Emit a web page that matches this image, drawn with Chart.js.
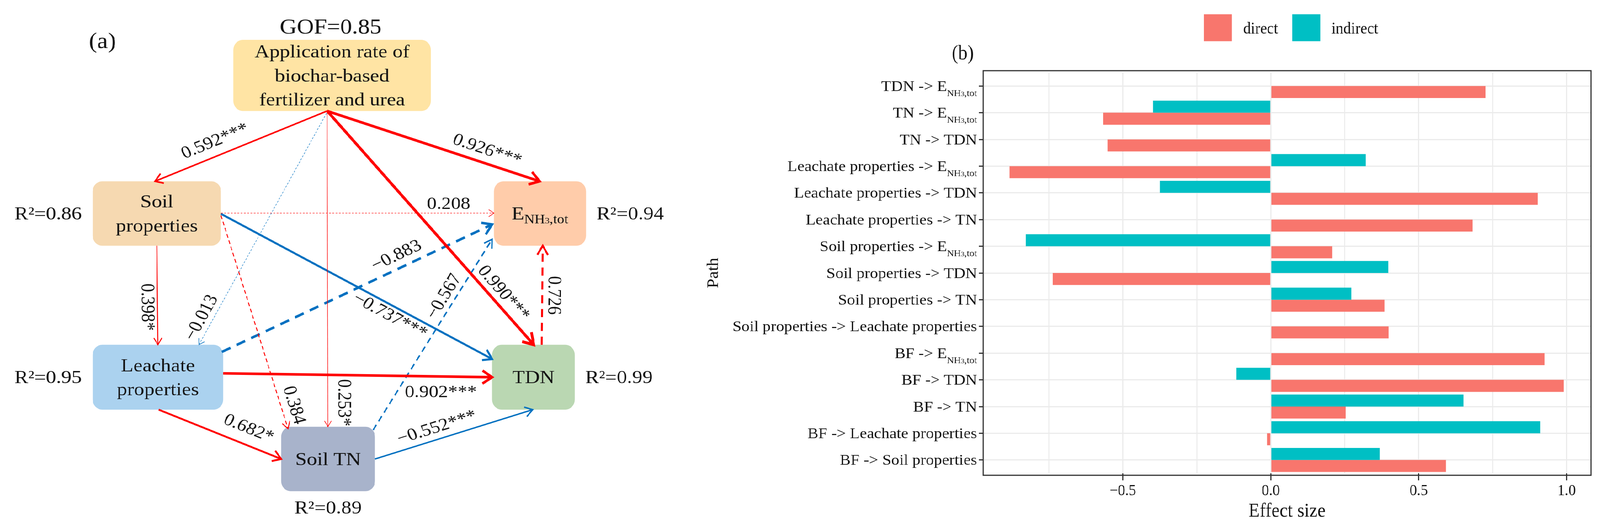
<!DOCTYPE html>
<html>
<head>
<meta charset="utf-8">
<script src="https://cdn.jsdelivr.net/npm/chart.js@4.4.1/dist/chart.umd.min.js"></script>
<style>
  html, body { margin: 0; padding: 0; background: #fff; overflow: hidden; }
  #page { position: relative; width: 4397px; height: 1352px; transform-origin: 0 0; }
  #paneA { position: absolute; left: 0; top: 0; width: 1900px; height: 1352px; }
  #paneB { position: absolute; left: 1900px; top: 0; width: 2497px; height: 1352px; }
</style>
</head>
<body>
<div id="page">
  <div id="paneA"><canvas id="pathModel"></canvas></div>
  <div id="paneB"><canvas id="effectBars"></canvas></div>
</div>
<script>
/* Path model (a) and direct / indirect effects (b) */

// ---- panel (b) data ----
var pathLabels = [
  'TDN -> E{NH3,tot}', 'TN -> E{NH3,tot}', 'TN -> TDN',
  'Leachate properties -> E{NH3,tot}', 'Leachate properties -> TDN', 'Leachate properties -> TN',
  'Soil properties -> E{NH3,tot}', 'Soil properties -> TDN', 'Soil properties -> TN',
  'Soil properties -> Leachate properties',
  'BF -> E{NH3,tot}', 'BF -> TDN', 'BF -> TN', 'BF -> Leachate properties', 'BF -> Soil properties'
];
var directEffect = [0.726, -0.567, -0.552, -0.883, 0.902, 0.682, 0.208, -0.737, 0.384, 0.398, 0.926, 0.990, 0.253, -0.013, 0.592];
var indirectEffect = [0, -0.398, 0, 0.321, -0.375, 0, -0.828, 0.397, 0.272, 0, 0, -0.116, 0.651, 0.911, 0.369];
var effectTicks = [-0.5, 0, 0.5, 1.0];

// ---- panel (a) data ----
var nodeIds = ['BF', 'Soil', 'Leach', 'TN', 'TDN', 'E'];
var nodeText = [
  ['Application rate of', 'biochar-based', 'fertilizer and urea'],
  ['Soil', 'properties'], ['Leachate', 'properties'], ['Soil TN'], ['TDN'], ['E{NH3,tot}']
];
var nodeR2 = [null, 0.86, 0.95, 0.89, 0.99, 0.94];
var modelGOF = 0.85;

var edgeFrom = ['BF', 'BF', 'BF', 'BF', 'BF', 'Soil', 'Soil', 'Soil', 'Soil', 'Leach', 'Leach', 'Leach', 'TN', 'TN', 'TDN'];
var edgeTo = ['Soil', 'E', 'TDN', 'TN', 'Leach', 'Leach', 'E', 'TN', 'TDN', 'E', 'TDN', 'TN', 'TDN', 'E', 'E'];
var edgeCoef = [0.592, 0.926, 0.990, 0.253, -0.013, 0.398, 0.208, 0.384, -0.737, -0.883, 0.902, 0.682, -0.552, -0.567, 0.726];
var edgeSig = ['***', '***', '***', '*', '', '*', '', '', '***', '', '***', '*', '***', '', ''];

// ---- diagram layout (diagram units, x0 y0 x1 y1) ----
var nodeBox = {
  BF: [640, 99, 1185, 282], Soil: [252, 463, 606, 629], Leach: [252, 884, 612, 1051],
  TN: [772, 1095, 1031, 1261], TDN: [1354, 884, 1582, 1051], E: [1359, 463, 1613, 629]
};
var nodeFill = { BF: '#FFE4A4', Soil: '#F6D9B1', Leach: '#ABD2EF', TN: '#A8B3CB', TDN: '#BAD7B2', E: '#FFCCAA' };
var r2Side = { Soil: 'left', Leach: 'left', TN: 'below', TDN: 'right', E: 'right' };
var tagPos = [279, 105];
// where each arrow leaves / enters its boxes (fractions of the box)
var edgeAnchor = [
  [0.475, 1, 0.486, 0], [0.475, 1, 0.496, 0], [0.475, 1, 0.504, 0], [0.475, 1, 0.498, 0],
  [0.472, 1.03, 0.814, 0], [0.5, 1, 0.5, 0], [1, 0.494, 0, 0.494], [1, 0.53, 0.073, 0.03],
  [1, 0.506, 0, 0.22], [0.99, 0.11, -0.02, 0.67], [1, 0.44, 0, 0.5], [0.506, 1, 0, 0.5],
  [1, 0.5, 0.49, 1], [0.98, 0.05, -0.02, 0.9], [0.6, 0, 0.53, 1]
];
// coefficient label: position along the arrow, offset across it
var edgeLabelAt = [
  [0.623, 36.8], [0.736, -33.4], [0.814, -30.3], [0.924, -43.2], [0.908, 28.6],
  [0.618, 28.9], [0.834, -22], [0.910, -34.3], [0.639, 26.8], [0.664, -32.3],
  [0.81, 41.9], [0.691, -41], [0.412, -29.4], [0.668, -28], [0.5, 31]
];

var SERIF = '"Liberation Serif", "Times New Roman", Times, serif';
var INK = '#141414';
var POS = '#FF0000', NEG = '#0070C0';
var STRETCH = 1.2;

// make the 4397 x 1352 figure fill the viewport whatever its real size
(function fitPage() {
  var w = window.innerWidth, h = window.innerHeight;
  if (!w || !h) return;
  var sx = w / 4397, sy = h / 1352;
  if (Math.abs(sx - 1) > 0.002 || Math.abs(sy - 1) > 0.002) {
    document.getElementById('page').style.transform = 'scale(' + sx + ',' + sy + ')';
  }
})();

function fmtCoef(c) { return (c < 0 ? '\u2212' : '') + Math.abs(c).toFixed(3); }
function edgeWidth(c) { return Math.max(1.2, 8 * Math.abs(c) - 0.6); }
function edgeDash(i) {
  if (edgeSig[i]) return [];
  var w = edgeWidth(edgeCoef[i]);
  return [Math.max(5, 4 * w), Math.max(4, 2.8 * w)];
}
function isMajor(v) {
  return effectTicks.some(function (t) { return Math.abs(t - v) < 1e-6; });
}

function segments(label, size, sub) {
  var m = label.match(/^(.*?)\{(.*)\}$/);
  var segs = [{ t: m ? m[1] : label, size: size, dy: 0 }];
  if (m) {
    m[2].split(/(\d+)/).forEach(function (p) {
      if (!p) return;
      var d = /^\d+$/.test(p);
      segs.push({ t: p, size: size * (d ? sub.digit : sub.sub), dy: size * sub.dy });
    });
  }
  return segs;
}

function drawRich(ctx, label, x, y, size, align, sx, sub) {
  var segs = segments(label, size, sub), w = 0;
  segs.forEach(function (s) {
    ctx.font = s.size + 'px ' + SERIF;
    s.w = ctx.measureText(s.t).width;
    w += s.w;
  });
  ctx.save();
  ctx.translate(x, y);
  ctx.scale(sx, 1);
  ctx.fillStyle = INK;
  ctx.textAlign = 'left';
  ctx.textBaseline = 'alphabetic';
  var cx = align === 'right' ? -w : (align === 'center' ? -w / 2 : 0);
  segs.forEach(function (s) {
    ctx.font = s.size + 'px ' + SERIF;
    ctx.fillText(s.t, cx, s.dy);
    cx += s.w;
  });
  ctx.restore();
}

function drawText(ctx, text, x, y, size, angle, align, baseline) {
  ctx.save();
  ctx.translate(x, y);
  ctx.scale(STRETCH, 1);
  if (angle) ctx.rotate(Math.atan2(Math.sin(angle), Math.cos(angle) / STRETCH));
  ctx.font = size + 'px ' + SERIF;
  ctx.fillStyle = INK;
  ctx.textAlign = align || 'center';
  ctx.textBaseline = baseline || 'middle';
  ctx.fillText(text, 0, 0);
  ctx.restore();
}

function roundRectPath(ctx, x, y, w, h, r) {
  ctx.beginPath();
  ctx.moveTo(x + r, y);
  ctx.arcTo(x + w, y, x + w, y + h, r);
  ctx.arcTo(x + w, y + h, x, y + h, r);
  ctx.arcTo(x, y + h, x, y, r);
  ctx.arcTo(x, y, x + w, y, r);
  ctx.closePath();
}

function anchorPoint(id, fx, fy) {
  var b = nodeBox[id];
  return { x: b[0] + fx * (b[2] - b[0]), y: b[1] + fy * (b[3] - b[1]) };
}

function boxRect(chart, id) {
  var b = nodeBox[id], xs = chart.scales.x, ys = chart.scales.y;
  var x0 = xs.getPixelForValue(b[0]), x1 = xs.getPixelForValue(b[2]);
  var y0 = ys.getPixelForValue(b[1]), y1 = ys.getPixelForValue(b[3]);
  return { x0: Math.min(x0, x1), x1: Math.max(x0, x1), y0: Math.min(y0, y1), y1: Math.max(y0, y1) };
}

var diagramPlugin = {
  id: 'diagram',
  beforeDatasetsDraw: function (chart) {
    var ctx = chart.ctx;
    nodeIds.forEach(function (id) {
      var r = boxRect(chart, id);
      ctx.save();
      ctx.fillStyle = nodeFill[id];
      roundRectPath(ctx, r.x0, r.y0, r.x1 - r.x0, r.y1 - r.y0, 26);
      ctx.fill();
      ctx.restore();
    });
  },
  afterDatasetsDraw: function (chart) {
    var ctx = chart.ctx, xs = chart.scales.x, ys = chart.scales.y;
    var sub = { sub: 0.7, digit: 0.45, dy: 0.21 };

    edgeCoef.forEach(function (c, i) {
      var ds = chart.data.datasets[i];
      var pts = chart.getDatasetMeta(i).data, a = pts[0], b = pts[1];
      var dx = b.x - a.x, dy = b.y - a.y, len = Math.hypot(dx, dy), ang = Math.atan2(dy, dx);
      var w = ds.borderWidth, L = 14 + 2.6 * w, th = 32 * Math.PI / 180;
      ctx.save();
      ctx.strokeStyle = ds.borderColor;
      ctx.lineWidth = Math.max(1.5, w);
      ctx.setLineDash([]);
      ctx.lineJoin = 'miter';
      ctx.beginPath();
      ctx.moveTo(b.x - L * Math.cos(ang - th), b.y - L * Math.sin(ang - th));
      ctx.lineTo(b.x, b.y);
      ctx.lineTo(b.x - L * Math.cos(ang + th), b.y - L * Math.sin(ang + th));
      ctx.stroke();
      ctx.restore();

      var lp = edgeLabelAt[i], ux = dx / len, uy = dy / len;
      var lx = a.x + lp[0] * dx - lp[1] * uy, ly = a.y + lp[0] * dy + lp[1] * ux;
      var rot = ang;
      if (rot > Math.PI / 2) rot -= Math.PI;
      else if (rot < -Math.PI * 0.44) rot += Math.PI;
      if (Math.abs(rot) < 0.02) rot = 0;
      drawText(ctx, fmtCoef(c) + edgeSig[i], lx, ly, 44, rot, 'center', 'middle');
    });

    nodeIds.forEach(function (id, k) {
      var r = boxRect(chart, id), cx = (r.x0 + r.x1) / 2, cy = (r.y0 + r.y1) / 2;
      var lines = nodeText[k], size = 47;
      lines.forEach(function (t, j) {
        var y = cy + (j - (lines.length - 1) / 2) * 61.5;
        drawRich(ctx, t, cx, y + 0.33 * size, size, 'center', STRETCH, sub);
      });
      if (nodeR2[k] != null) {
        var txt = 'R\u00b2=' + nodeR2[k].toFixed(2), side = r2Side[id];
        if (side === 'left') drawText(ctx, txt, r.x0 - 30, cy + 15.5, 47, 0, 'right', 'alphabetic');
        else if (side === 'right') drawText(ctx, txt, r.x1 + 29, cy + 15.5, 47, 0, 'left', 'alphabetic');
        else drawText(ctx, txt, cx, r.y1 + 42 + 15.5, 47, 0, 'center', 'alphabetic');
      }
      if (id === 'BF') {
        drawText(ctx, 'GOF=' + modelGOF.toFixed(2), cx - 4, r.y0 - 34 + 18, 54, 0, 'center', 'alphabetic');
      }
    });

    drawText(ctx, '(a)', xs.getPixelForValue(tagPos[0]), ys.getPixelForValue(tagPos[1]), 56, 0, 'center', 'middle');
  }
};

var edgeDatasets = edgeCoef.map(function (c, i) {
  var an = edgeAnchor[i];
  return {
    label: edgeFrom[i] + ' -> ' + edgeTo[i],
    data: [anchorPoint(edgeFrom[i], an[0], an[1]), anchorPoint(edgeTo[i], an[2], an[3])],
    showLine: true,
    pointRadius: 0,
    pointHoverRadius: 0,
    fill: false,
    tension: 0,
    borderColor: c < 0 ? NEG : POS,
    borderWidth: edgeWidth(c),
    borderDash: edgeDash(i),
    borderCapStyle: 'butt'
  };
});

new Chart(document.getElementById('pathModel'), {
  type: 'scatter',
  data: { datasets: edgeDatasets },
  options: {
    responsive: true,
    maintainAspectRatio: false,
    animation: false,
    events: [],
    layout: { padding: 0 },
    plugins: { legend: { display: false }, tooltip: { enabled: false } },
    scales: {
      x: { type: 'linear', min: 0, max: 1900, display: false },
      y: { type: 'linear', min: 0, max: 1352, reverse: true, display: false }
    }
  },
  plugins: [diagramPlugin]
});

var effectPlugin = {
  id: 'effectDecor',
  afterDraw: function (chart) {
    var ctx = chart.ctx, area = chart.chartArea, ys = chart.scales.y;
    var sub = { sub: 0.6, digit: 0.42, dy: 0.34 };

    ctx.save();
    ctx.strokeStyle = '#333';
    ctx.lineWidth = 3;
    ctx.strokeRect(area.left, area.top - 5, area.right - area.left, area.bottom - area.top + 10);
    ctx.restore();

    pathLabels.forEach(function (lab, i) {
      var y = ys.getPixelForTick(i);
      drawRich(ctx, lab, area.left - 17, y + 0.33 * 38, 38, 'right', 1.17, sub);
    });

    // legend, direct first
    var items = chart.data.datasets.slice().reverse();
    var keyW = 77, keyH = 69, gapT = 31, gapI = 39, cy = 71;
    ctx.save();
    ctx.font = '42px ' + SERIF;
    var widths = items.map(function (d) { return ctx.measureText(d.label).width; });
    var total = widths.reduce(function (s, w) { return s + keyW + gapT + w; }, 0) + gapI * (items.length - 1);
    var x = (area.left + area.right) / 2 + 11 - total / 2;
    items.forEach(function (d, k) {
      ctx.fillStyle = d.backgroundColor;
      ctx.fillRect(x, cy - keyH / 2, keyW, keyH);
      x += keyW + gapT;
      ctx.fillStyle = INK;
      ctx.textAlign = 'left';
      ctx.textBaseline = 'alphabetic';
      ctx.fillText(d.label, x, cy + 15);
      x += widths[k] + gapI;
    });
    ctx.font = '52px ' + SERIF;
    ctx.textAlign = 'center';
    ctx.textBaseline = 'middle';
    ctx.fillText('(b)', area.left - 56, 138);
    ctx.restore();
  }
};

new Chart(document.getElementById('effectBars'), {
  type: 'bar',
  data: {
    labels: pathLabels,
    datasets: [
      { label: 'indirect', data: indirectEffect, backgroundColor: '#00BFC4', categoryPercentage: 0.9, barPercentage: 1.0 },
      { label: 'direct', data: directEffect, backgroundColor: '#F8766D', categoryPercentage: 0.9, barPercentage: 1.0 }
    ]
  },
  options: {
    indexAxis: 'y',
    responsive: true,
    maintainAspectRatio: false,
    animation: false,
    events: [],
    layout: { padding: { left: 31, right: 25, top: 186, bottom: 8 } },
    plugins: { legend: { display: false }, tooltip: { enabled: false } },
    scales: {
      x: {
        min: -0.972,
        max: 1.082,
        border: { display: false },
        grid: {
          color: '#EBEBEB',
          lineWidth: function (c) { return c.tick && isMajor(c.tick.value) ? 3 : 2.5; },
          tickLength: 18,
          tickWidth: 3,
          tickColor: function (c) { return c.tick && isMajor(c.tick.value) ? '#333' : 'rgba(0,0,0,0)'; }
        },
        ticks: {
          stepSize: 0.25,
          includeBounds: false,
          autoSkip: false,
          maxRotation: 0,
          padding: 3,
          color: INK,
          font: { family: SERIF, size: 40 },
          callback: function (v) { return isMajor(v) ? Number(v).toFixed(1).replace('-', '\u2212') : ''; }
        },
        title: { display: true, text: 'Effect size', color: INK, font: { family: SERIF, size: 50 }, padding: { top: 0, bottom: 4 } },
        afterFit: function (s) { s.height = 132; }
      },
      y: {
        border: { display: false },
        grid: { offset: false, color: '#EBEBEB', lineWidth: 3, tickLength: 12, tickWidth: 3, tickColor: '#333' },
        ticks: { display: false },
        title: { display: true, text: 'Path', color: INK, font: { family: SERIF, size: 44 }, padding: { top: 4, bottom: 0 } },
        afterFit: function (s) { s.width = 771; }
      }
    }
  },
  plugins: [effectPlugin]
});
</script>
</body>
</html>
